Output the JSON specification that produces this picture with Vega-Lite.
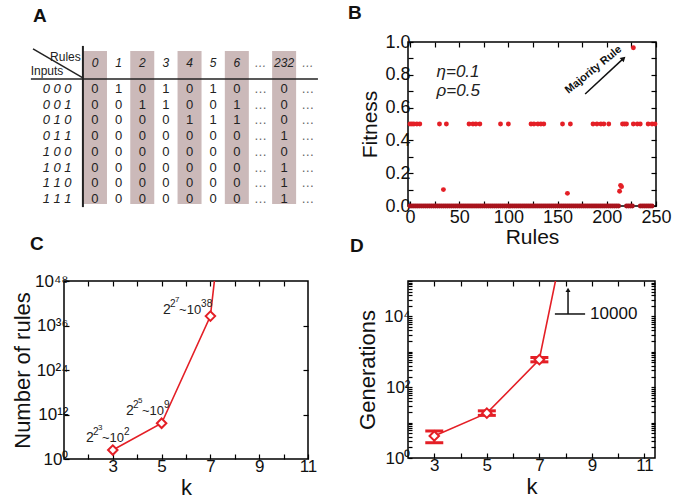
{
"$schema": "https://vega.github.io/schema/vega-lite/v6.json",
"background": "white",
"padding": {"left": 10, "top": 3, "right": 0, "bottom": 0},
"columns": 2,
"bounds": "flush",
"spacing": {"row": 75, "column": 100},
"config": {
  "font": "Liberation Sans",
  "view": {"stroke": "black", "strokeWidth": 1.5},
  "axis": {"grid": false, "domain": false, "tickColor": "black", "tickSize": -5, "tickWidth": 1.2,
    "labelFlush": false, "labelOverlap": false,
    "labelFont": "Liberation Sans", "labelFontSize": 17, "labelColor": "#111", "labelPadding": 4,
    "titleFont": "Liberation Sans", "titleFontSize": 21, "titleFontWeight": "normal", "titleColor": "#111"},
  "title": {"font": "Liberation Sans", "fontSize": 19, "fontWeight": "bold", "anchor": "start", "frame": "group", "color": "#111"},
  "text": {"font": "Liberation Sans"}
},
"concat": [
{
  "width": 244, "height": 164,
  "view": {"stroke": null},
  "title": {"text": "A", "dx": -31, "offset": 13},
  "layer": [
    {"data": {"values": [{"c": 0}, {"c": 2}, {"c": 4}, {"c": 6}, {"c": 8}]},
     "mark": {"type": "rule", "strokeWidth": 24, "color": "#cbb9b9"},
     "encoding": {"x": {"field": "c", "type": "quantitative", "scale": {"domain": [-1.31, 9.01], "nice": false, "zero": false}, "axis": null},
       "y": {"datum": -2.42, "type": "quantitative", "scale": {"domain": [-2.99, 7.45], "reverse": true, "nice": false, "zero": false}, "axis": null},
       "y2": {"datum": 7.32}}},
    {"data": {"values": [{"x": -2.71, "y": -0.64, "x2": 9.43, "y2": -0.64}, {"x": -2.62, "y": -2.55, "x2": -0.51, "y2": -0.70}]},
     "mark": {"type": "rule", "strokeWidth": 1.5, "color": "#222"},
     "encoding": {"x": {"field": "x", "type": "quantitative", "scale": {"domain": [-1.31, 9.01], "nice": false, "zero": false}, "axis": null}, "y": {"field": "y", "type": "quantitative", "scale": {"domain": [-2.99, 7.45], "reverse": true, "nice": false, "zero": false}, "axis": null},
       "x2": {"field": "x2"}, "y2": {"field": "y2"}}},
    {"data": {"values": [{"x": -0.51, "y": -2.74, "x2": -0.51, "y2": 7.52}]},
     "mark": {"type": "rule", "strokeWidth": 2, "color": "#222"},
     "encoding": {"x": {"field": "x", "type": "quantitative", "scale": {"domain": [-1.31, 9.01], "nice": false, "zero": false}, "axis": null}, "y": {"field": "y", "type": "quantitative", "scale": {"domain": [-2.99, 7.45], "reverse": true, "nice": false, "zero": false}, "axis": null},
       "x2": {"field": "x2"}, "y2": {"field": "y2"}}},
    {"data": {"values": [{"x": -0.6, "y": -2.04, "t": "Rules"}]},
     "mark": {"type": "text", "align": "right", "baseline": "middle", "fontSize": 12, "color": "#222"},
     "encoding": {"x": {"field": "x", "type": "quantitative", "scale": {"domain": [-1.31, 9.01], "nice": false, "zero": false}, "axis": null}, "y": {"field": "y", "type": "quantitative", "scale": {"domain": [-2.99, 7.45], "reverse": true, "nice": false, "zero": false}, "axis": null}, "text": {"field": "t"}}},
    {"data": {"values": [{"x": -2.72, "y": -1.15, "t": "Inputs"}]},
     "mark": {"type": "text", "align": "left", "baseline": "middle", "fontSize": 12, "color": "#222"},
     "encoding": {"x": {"field": "x", "type": "quantitative", "scale": {"domain": [-1.31, 9.01], "nice": false, "zero": false}, "axis": null}, "y": {"field": "y", "type": "quantitative", "scale": {"domain": [-2.99, 7.45], "reverse": true, "nice": false, "zero": false}, "axis": null}, "text": {"field": "t"}}},
    {"data": {"values": [{"c": 0, "t": "0"}, {"c": 1, "t": "1"}, {"c": 2, "t": "2"}, {"c": 3, "t": "3"}, {"c": 4, "t": "4"}, {"c": 5, "t": "5"}, {"c": 6, "t": "6"}, {"c": 7, "t": "…"}, {"c": 8, "t": "232"}, {"c": 9, "t": "…"}]},
     "mark": {"type": "text", "align": "center", "baseline": "middle", "fontSize": 12, "fontStyle": "italic"},
     "encoding": {"x": {"field": "c", "type": "quantitative", "scale": {"domain": [-1.31, 9.01], "nice": false, "zero": false}, "axis": null}, "y": {"datum": -1.66, "type": "quantitative", "scale": {"domain": [-2.99, 7.45], "reverse": true, "nice": false, "zero": false}, "axis": null},
       "text": {"field": "t"}, "color": {"condition": {"test": "datum.t == '…'", "value": "#666"}, "value": "#222"}}},
    {"data": {"values": [{"r": 0, "t": "0 0 0"}, {"r": 1, "t": "0 0 1"}, {"r": 2, "t": "0 1 0"}, {"r": 3, "t": "0 1 1"}, {"r": 4, "t": "1 0 0"}, {"r": 5, "t": "1 0 1"}, {"r": 6, "t": "1 1 0"}, {"r": 7, "t": "1 1 1"}]},
     "mark": {"type": "text", "align": "center", "baseline": "middle", "fontSize": 13, "fontStyle": "italic", "color": "#222"},
     "encoding": {"x": {"datum": -1.6, "type": "quantitative", "scale": {"domain": [-1.31, 9.01], "nice": false, "zero": false}, "axis": null}, "y": {"field": "r", "type": "quantitative", "scale": {"domain": [-2.99, 7.45], "reverse": true, "nice": false, "zero": false}, "axis": null}, "text": {"field": "t"}}},
    {"data": {"values": [
      {"c": 0, "r": 0, "t": "0"}, {"c": 1, "r": 0, "t": "1"}, {"c": 2, "r": 0, "t": "0"}, {"c": 3, "r": 0, "t": "1"}, {"c": 4, "r": 0, "t": "0"}, {"c": 5, "r": 0, "t": "1"}, {"c": 6, "r": 0, "t": "0"}, {"c": 8, "r": 0, "t": "0"},
      {"c": 0, "r": 1, "t": "0"}, {"c": 1, "r": 1, "t": "0"}, {"c": 2, "r": 1, "t": "1"}, {"c": 3, "r": 1, "t": "1"}, {"c": 4, "r": 1, "t": "0"}, {"c": 5, "r": 1, "t": "0"}, {"c": 6, "r": 1, "t": "1"}, {"c": 8, "r": 1, "t": "0"},
      {"c": 0, "r": 2, "t": "0"}, {"c": 1, "r": 2, "t": "0"}, {"c": 2, "r": 2, "t": "0"}, {"c": 3, "r": 2, "t": "0"}, {"c": 4, "r": 2, "t": "1"}, {"c": 5, "r": 2, "t": "1"}, {"c": 6, "r": 2, "t": "1"}, {"c": 8, "r": 2, "t": "0"},
      {"c": 0, "r": 3, "t": "0"}, {"c": 1, "r": 3, "t": "0"}, {"c": 2, "r": 3, "t": "0"}, {"c": 3, "r": 3, "t": "0"}, {"c": 4, "r": 3, "t": "0"}, {"c": 5, "r": 3, "t": "0"}, {"c": 6, "r": 3, "t": "0"}, {"c": 8, "r": 3, "t": "1"},
      {"c": 0, "r": 4, "t": "0"}, {"c": 1, "r": 4, "t": "0"}, {"c": 2, "r": 4, "t": "0"}, {"c": 3, "r": 4, "t": "0"}, {"c": 4, "r": 4, "t": "0"}, {"c": 5, "r": 4, "t": "0"}, {"c": 6, "r": 4, "t": "0"}, {"c": 8, "r": 4, "t": "0"},
      {"c": 0, "r": 5, "t": "0"}, {"c": 1, "r": 5, "t": "0"}, {"c": 2, "r": 5, "t": "0"}, {"c": 3, "r": 5, "t": "0"}, {"c": 4, "r": 5, "t": "0"}, {"c": 5, "r": 5, "t": "0"}, {"c": 6, "r": 5, "t": "0"}, {"c": 8, "r": 5, "t": "1"},
      {"c": 0, "r": 6, "t": "0"}, {"c": 1, "r": 6, "t": "0"}, {"c": 2, "r": 6, "t": "0"}, {"c": 3, "r": 6, "t": "0"}, {"c": 4, "r": 6, "t": "0"}, {"c": 5, "r": 6, "t": "0"}, {"c": 6, "r": 6, "t": "0"}, {"c": 8, "r": 6, "t": "1"},
      {"c": 0, "r": 7, "t": "0"}, {"c": 1, "r": 7, "t": "0"}, {"c": 2, "r": 7, "t": "0"}, {"c": 3, "r": 7, "t": "0"}, {"c": 4, "r": 7, "t": "0"}, {"c": 5, "r": 7, "t": "0"}, {"c": 6, "r": 7, "t": "0"}, {"c": 8, "r": 7, "t": "1"},
      {"c": 7, "r": 0, "t": "…"}, {"c": 9, "r": 0, "t": "…"}, {"c": 7, "r": 1, "t": "…"}, {"c": 9, "r": 1, "t": "…"}, {"c": 7, "r": 2, "t": "…"}, {"c": 9, "r": 2, "t": "…"}, {"c": 7, "r": 3, "t": "…"}, {"c": 9, "r": 3, "t": "…"},
      {"c": 7, "r": 4, "t": "…"}, {"c": 9, "r": 4, "t": "…"}, {"c": 7, "r": 5, "t": "…"}, {"c": 9, "r": 5, "t": "…"}, {"c": 7, "r": 6, "t": "…"}, {"c": 9, "r": 6, "t": "…"}, {"c": 7, "r": 7, "t": "…"}, {"c": 9, "r": 7, "t": "…"}
    ]},
     "mark": {"type": "text", "align": "center", "baseline": "middle", "fontSize": 13},
     "encoding": {"x": {"field": "c", "type": "quantitative", "scale": {"domain": [-1.31, 9.01], "nice": false, "zero": false}, "axis": null}, "y": {"field": "r", "type": "quantitative", "scale": {"domain": [-2.99, 7.45], "reverse": true, "nice": false, "zero": false}, "axis": null},
       "text": {"field": "t"}, "color": {"condition": {"test": "datum.t == '…'", "value": "#666"}, "value": "#222"}}}
  ]
},
{
  "width": 248, "height": 164,
  "title": {"text": "B", "dx": -60, "offset": 10},
  "resolve": {"axis": {"x": "independent", "y": "independent"}},
  "layer": [
    {"data": {"values": [
      {"r": 0, "f": 0.5}, {"r": 2, "f": 0.5}, {"r": 4, "f": 0.5}, {"r": 7, "f": 0.5}, {"r": 10, "f": 0.5},
      {"r": 30, "f": 0.5}, {"r": 37, "f": 0.5}, {"r": 60, "f": 0.5}, {"r": 64, "f": 0.5}, {"r": 67, "f": 0.5}, {"r": 71, "f": 0.5},
      {"r": 92, "f": 0.5}, {"r": 100, "f": 0.5}, {"r": 123, "f": 0.5}, {"r": 126, "f": 0.5}, {"r": 130, "f": 0.5}, {"r": 133, "f": 0.5}, {"r": 136, "f": 0.5},
      {"r": 155, "f": 0.5}, {"r": 163, "f": 0.5}, {"r": 186, "f": 0.5}, {"r": 190, "f": 0.5}, {"r": 194, "f": 0.5}, {"r": 197, "f": 0.5}, {"r": 202, "f": 0.5},
      {"r": 216, "f": 0.5}, {"r": 218, "f": 0.5}, {"r": 220, "f": 0.5}, {"r": 227, "f": 0.5}, {"r": 231, "f": 0.5}, {"r": 234, "f": 0.5},
      {"r": 242, "f": 0.5}, {"r": 246, "f": 0.5}, {"r": 249, "f": 0.5},
      {"r": 34, "f": 0.1}, {"r": 160, "f": 0.077}, {"r": 213, "f": 0.09}, {"r": 214, "f": 0.126}, {"r": 215, "f": 0.118}, {"r": 227, "f": 0.965},
      {"r": 0, "f": 0}, {"r": 2, "f": 0}, {"r": 4, "f": 0}, {"r": 6, "f": 0}, {"r": 8, "f": 0}, {"r": 10, "f": 0}, {"r": 12, "f": 0}, {"r": 14, "f": 0}, {"r": 16, "f": 0}, {"r": 18, "f": 0},
      {"r": 20, "f": 0}, {"r": 22, "f": 0}, {"r": 24, "f": 0}, {"r": 26, "f": 0}, {"r": 28, "f": 0}, {"r": 30, "f": 0}, {"r": 32, "f": 0}, {"r": 34, "f": 0}, {"r": 36, "f": 0}, {"r": 38, "f": 0},
      {"r": 40, "f": 0}, {"r": 42, "f": 0}, {"r": 44, "f": 0}, {"r": 46, "f": 0}, {"r": 48, "f": 0}, {"r": 50, "f": 0}, {"r": 52, "f": 0}, {"r": 54, "f": 0}, {"r": 56, "f": 0}, {"r": 58, "f": 0},
      {"r": 60, "f": 0}, {"r": 62, "f": 0}, {"r": 64, "f": 0}, {"r": 66, "f": 0}, {"r": 68, "f": 0}, {"r": 70, "f": 0}, {"r": 72, "f": 0}, {"r": 74, "f": 0}, {"r": 76, "f": 0}, {"r": 78, "f": 0},
      {"r": 80, "f": 0}, {"r": 82, "f": 0}, {"r": 84, "f": 0}, {"r": 86, "f": 0}, {"r": 88, "f": 0}, {"r": 90, "f": 0}, {"r": 92, "f": 0}, {"r": 94, "f": 0}, {"r": 96, "f": 0}, {"r": 98, "f": 0},
      {"r": 100, "f": 0}, {"r": 102, "f": 0}, {"r": 104, "f": 0}, {"r": 106, "f": 0}, {"r": 108, "f": 0}, {"r": 110, "f": 0}, {"r": 112, "f": 0}, {"r": 114, "f": 0}, {"r": 116, "f": 0}, {"r": 118, "f": 0},
      {"r": 120, "f": 0}, {"r": 122, "f": 0}, {"r": 124, "f": 0}, {"r": 126, "f": 0}, {"r": 128, "f": 0}, {"r": 130, "f": 0}, {"r": 132, "f": 0}, {"r": 134, "f": 0}, {"r": 136, "f": 0}, {"r": 138, "f": 0},
      {"r": 140, "f": 0}, {"r": 142, "f": 0}, {"r": 144, "f": 0}, {"r": 146, "f": 0}, {"r": 148, "f": 0}, {"r": 150, "f": 0}, {"r": 152, "f": 0}, {"r": 154, "f": 0}, {"r": 156, "f": 0}, {"r": 158, "f": 0},
      {"r": 160, "f": 0}, {"r": 162, "f": 0}, {"r": 164, "f": 0}, {"r": 166, "f": 0}, {"r": 168, "f": 0}, {"r": 170, "f": 0}, {"r": 172, "f": 0}, {"r": 174, "f": 0}, {"r": 176, "f": 0}, {"r": 178, "f": 0},
      {"r": 180, "f": 0}, {"r": 182, "f": 0}, {"r": 184, "f": 0}, {"r": 186, "f": 0}, {"r": 188, "f": 0}, {"r": 190, "f": 0}, {"r": 192, "f": 0}, {"r": 194, "f": 0}, {"r": 196, "f": 0}, {"r": 198, "f": 0},
      {"r": 200, "f": 0}, {"r": 202, "f": 0}, {"r": 204, "f": 0}, {"r": 206, "f": 0}, {"r": 208, "f": 0}, {"r": 210, "f": 0}, {"r": 212, "f": 0},
      {"r": 220, "f": 0}, {"r": 222, "f": 0}, {"r": 224, "f": 0}, {"r": 226, "f": 0},
      {"r": 234, "f": 0}, {"r": 236, "f": 0}, {"r": 238, "f": 0}, {"r": 240, "f": 0}, {"r": 242, "f": 0}, {"r": 244, "f": 0}, {"r": 246, "f": 0}
    ]},
     "mark": {"type": "circle", "size": 24, "opacity": 1},
     "encoding": {
       "x": {"field": "r", "type": "quantitative", "scale": {"domain": [-2, 250], "nice": false, "zero": false},
         "axis": {"values": [0, 25, 50, 75, 100, 125, 150, 175, 200, 225, 250], "labelExpr": "datum.value % 50 == 0 ? datum.label : ''", "title": "Rules", "labelFontSize": 18, "titleFontSize": 21, "titlePadding": 0, "labelPadding": 7}},
       "y": {"field": "f", "type": "quantitative", "scale": {"domain": [0, 1], "nice": false, "zero": false},
         "axis": {"values": [0, 0.1, 0.2, 0.3, 0.4, 0.5, 0.6, 0.7, 0.8, 0.9, 1], "labelExpr": "round(datum.value*10) % 2 == 0 ? format(datum.value, '.1f') : ''", "title": "Fitness", "labelFontSize": 18, "titleFontSize": 21, "labelPadding": 3}},
       "color": {"condition": {"test": "datum.f == 0", "value": "#a8141d"}, "value": "#e41f26"}
     }},
    {"data": {"values": [{"r": 0, "f": 0}]},
     "mark": {"type": "point", "opacity": 0},
     "encoding": {
       "x": {"field": "r", "type": "quantitative", "scale": {"domain": [-2, 250], "nice": false, "zero": false}, "axis": {"orient": "top", "values": [0, 25, 50, 75, 100, 125, 150, 175, 200, 225, 250], "labels": false, "title": null}},
       "y": {"field": "f", "type": "quantitative", "scale": {"domain": [0, 1], "nice": false, "zero": false}, "axis": {"orient": "right", "values": [0, 0.1, 0.2, 0.3, 0.4, 0.5, 0.6, 0.7, 0.8, 0.9, 1], "labels": false, "title": null}}}},
    {"data": {"values": [{"r": 27, "f": 0.817, "t": "η=0.1"}, {"r": 27, "f": 0.70, "t": "ρ=0.5"}]},
     "mark": {"type": "text", "align": "left", "baseline": "middle", "fontSize": 17, "fontStyle": "italic", "color": "#222"},
     "encoding": {"x": {"field": "r", "type": "quantitative", "scale": {"domain": [-2, 250], "nice": false, "zero": false}, "axis": null}, "y": {"field": "f", "type": "quantitative", "scale": {"domain": [0, 1], "nice": false, "zero": false}, "axis": null}, "text": {"field": "t"}}},
    {"data": {"values": [{"r": 186.5, "f": 0.83, "t": "Majority Rule"}]},
     "mark": {"type": "text", "align": "center", "baseline": "middle", "fontSize": 11, "fontWeight": "bold", "angle": -39, "color": "#111"},
     "encoding": {"x": {"field": "r", "type": "quantitative", "scale": {"domain": [-2, 250], "nice": false, "zero": false}, "axis": null}, "y": {"field": "f", "type": "quantitative", "scale": {"domain": [0, 1], "nice": false, "zero": false}, "axis": null}, "text": {"field": "t"}}},
    {"data": {"values": [{"r": 178, "f": 0.683, "r2": 217, "f2": 0.9}]},
     "mark": {"type": "rule", "strokeWidth": 1.5, "color": "#111"},
     "encoding": {"x": {"field": "r", "type": "quantitative", "scale": {"domain": [-2, 250], "nice": false, "zero": false}, "axis": null}, "y": {"field": "f", "type": "quantitative", "scale": {"domain": [0, 1], "nice": false, "zero": false}, "axis": null}, "x2": {"field": "r2"}, "y2": {"field": "f2"}}},
    {"data": {"values": [{"r": 217, "f": 0.9}]},
     "mark": {"type": "point", "shape": "triangle-up", "filled": true, "color": "#111", "size": 35, "angle": 47, "opacity": 1},
     "encoding": {"x": {"field": "r", "type": "quantitative", "scale": {"domain": [-2, 250], "nice": false, "zero": false}, "axis": null}, "y": {"field": "f", "type": "quantitative", "scale": {"domain": [0, 1], "nice": false, "zero": false}, "axis": null}}}
  ]
},
{
  "width": 244, "height": 178,
  "title": {"text": "C", "dx": -34, "offset": 18},
  "resolve": {"axis": {"x": "independent", "y": "independent"}},
  "layer": [
    {"data": {"values": [{"k": 3, "n": 256}, {"k": 5, "n": 4294967296}, {"k": 7, "n": 3.4e38}, {"k": 9, "n": 1.34e154}]},
     "mark": {"type": "line", "color": "#e41f26", "strokeWidth": 1.6, "clip": true},
     "encoding": {
       "x": {"field": "k", "type": "quantitative", "scale": {"domain": [1, 11], "nice": false, "zero": false},
         "axis": {"values": [2, 3, 4, 5, 6, 7, 8, 9, 10, 11], "labelExpr": "datum.value % 2 == 1 ? datum.label : ''", "title": "k", "titleFontSize": 22, "titlePadding": 3}},
       "y": {"field": "n", "type": "quantitative", "scale": {"type": "log", "domain": [1, 1e48], "nice": false},
         "axis": {"values": [1, 1e12, 1e24, 1e36, 1e48], "labelExpr": "datum.value < 10 ? '10⁰' : datum.value < 1e13 ? '10¹²' : datum.value < 1e25 ? '10²⁴' : datum.value < 1e37 ? '10³⁶' : '10⁴⁸'", "title": "Number of rules", "titleFontSize": 22, "labelPadding": 1, "titlePadding": 0}}}},
    {"data": {"values": [{"k": 3, "n": 256}, {"k": 5, "n": 4294967296}, {"k": 7, "n": 3.4e38}]},
     "mark": {"type": "point", "shape": "diamond", "filled": true, "fill": "white", "stroke": "#e41f26", "strokeWidth": 2, "size": 90, "opacity": 1},
     "encoding": {"x": {"field": "k", "type": "quantitative", "scale": {"domain": [1, 11], "nice": false, "zero": false}, "axis": null}, "y": {"field": "n", "type": "quantitative", "scale": {"type": "log", "domain": [1, 1e48], "nice": false}, "axis": null}}},
    {"data": {"values": [{"k": 1, "n": 1}]},
     "mark": {"type": "point", "opacity": 0},
     "encoding": {
       "x": {"field": "k", "type": "quantitative", "scale": {"domain": [1, 11], "nice": false, "zero": false}, "axis": {"orient": "top", "values": [2, 3, 4, 5, 6, 7, 8, 9, 10], "labels": false, "title": null}},
       "y": {"field": "n", "type": "quantitative", "scale": {"type": "log", "domain": [1, 1e48], "nice": false}, "axis": {"orient": "right", "values": [1e12, 1e24, 1e36], "labels": false, "title": null}}}},
    {"data": {"values": [{"k": 1.9, "n": 4e4, "a": "3", "b": "2"}, {"k": 3.54, "n": 1e12, "a": "5", "b": "9"}, {"k": 5.06, "n": 1e39, "a": "7", "b": "38"}]},
     "encoding": {"x": {"field": "k", "type": "quantitative", "scale": {"domain": [1, 11], "nice": false, "zero": false}, "axis": null}, "y": {"field": "n", "type": "quantitative", "scale": {"type": "log", "domain": [1, 1e48], "nice": false}, "axis": null}},
     "layer": [
       {"mark": {"type": "text", "align": "left", "baseline": "alphabetic", "fontSize": 14, "color": "#222", "dx": 0}, "encoding": {"text": {"value": "2"}}},
       {"mark": {"type": "text", "align": "left", "baseline": "alphabetic", "fontSize": 10, "color": "#222", "dx": 7, "dy": -7}, "encoding": {"text": {"value": "2"}}},
       {"mark": {"type": "text", "align": "left", "baseline": "alphabetic", "fontSize": 8, "color": "#222", "dx": 12, "dy": -12}, "encoding": {"text": {"field": "a"}}},
       {"mark": {"type": "text", "align": "left", "baseline": "alphabetic", "fontSize": 13, "color": "#222", "dx": 16}, "encoding": {"text": {"value": "~10"}}},
       {"mark": {"type": "text", "align": "left", "baseline": "alphabetic", "fontSize": 10, "color": "#222", "dx": 38, "dy": -7}, "encoding": {"text": {"field": "b"}}}
     ]}
  ]
},
{
  "width": 247, "height": 177,
  "title": {"text": "D", "dx": -58, "offset": 16},
  "resolve": {"axis": {"x": "independent", "y": "independent"}},
  "layer": [
    {"data": {"values": [{"k": 3, "g": 4.2}, {"k": 5, "g": 18.5}, {"k": 7, "g": 600}, {"k": 7.05, "g": 950}, {"k": 9, "g": 1e10}]},
     "mark": {"type": "line", "color": "#e41f26", "strokeWidth": 1.6, "clip": true},
     "encoding": {
       "x": {"field": "k", "type": "quantitative", "scale": {"domain": [2, 11.4], "nice": false, "zero": false},
         "axis": {"values": [3, 4, 5, 6, 7, 8, 9, 10, 11], "labelExpr": "datum.value % 2 == 1 ? datum.label : ''", "title": "k", "titleFontSize": 22, "titlePadding": 3}},
       "y": {"field": "g", "type": "quantitative", "scale": {"type": "log", "domain": [1, 100000], "nice": false},
         "axis": {"values": [1, 2, 3, 4, 5, 6, 7, 8, 9, 10, 20, 30, 40, 50, 60, 70, 80, 90, 100, 200, 300, 400, 500, 600, 700, 800, 900, 1000, 2000, 3000, 4000, 5000, 6000, 7000, 8000, 9000, 10000, 20000, 30000, 40000, 50000, 60000, 70000, 80000, 90000, 100000],
           "labelExpr": "datum.value == 1 ? '10⁰' : datum.value == 100 ? '10²' : datum.value == 10000 ? '10⁴' : ''", "title": "Generations", "titleFontSize": 22, "tickSize": -4, "labelPadding": 2}}}},
    {"data": {"values": [{"k": 3, "lo": 2.7, "hi": 5.8}, {"k": 5, "lo": 16, "hi": 21.5}, {"k": 7, "lo": 520, "hi": 690}]},
     "encoding": {"x": {"field": "k", "type": "quantitative", "scale": {"domain": [2, 11.4], "nice": false, "zero": false}, "axis": null}},
     "layer": [
       {"mark": {"type": "rule", "color": "#e41f26", "strokeWidth": 2}, "encoding": {"y": {"field": "lo", "type": "quantitative", "scale": {"type": "log", "domain": [1, 100000], "nice": false}, "axis": null}, "y2": {"field": "hi"}}},
       {"mark": {"type": "tick", "orient": "horizontal", "color": "#e41f26", "size": 18, "thickness": 3, "opacity": 1}, "encoding": {"y": {"field": "lo", "type": "quantitative", "scale": {"type": "log", "domain": [1, 100000], "nice": false}, "axis": null}}},
       {"mark": {"type": "tick", "orient": "horizontal", "color": "#e41f26", "size": 18, "thickness": 3, "opacity": 1}, "encoding": {"y": {"field": "hi", "type": "quantitative", "scale": {"type": "log", "domain": [1, 100000], "nice": false}, "axis": null}}}
     ]},
    {"data": {"values": [{"k": 3, "g": 4.2}, {"k": 5, "g": 18.5}, {"k": 7, "g": 600}]},
     "mark": {"type": "point", "shape": "diamond", "filled": true, "fill": "white", "stroke": "#e41f26", "strokeWidth": 2, "size": 90, "opacity": 1},
     "encoding": {"x": {"field": "k", "type": "quantitative", "scale": {"domain": [2, 11.4], "nice": false, "zero": false}, "axis": null}, "y": {"field": "g", "type": "quantitative", "scale": {"type": "log", "domain": [1, 100000], "nice": false}, "axis": null}}},
    {"data": {"values": [{"k": 3, "g": 1}]},
     "mark": {"type": "point", "opacity": 0},
     "encoding": {
       "x": {"field": "k", "type": "quantitative", "scale": {"domain": [2, 11.4], "nice": false, "zero": false}, "axis": {"orient": "top", "values": [3, 4, 5, 6, 7, 8, 9, 10, 11], "labels": false, "title": null}},
       "y": {"field": "g", "type": "quantitative", "scale": {"type": "log", "domain": [1, 100000], "nice": false}, "axis": {"orient": "right", "values": [2, 3, 4, 5, 6, 7, 8, 9, 10, 20, 30, 40, 50, 60, 70, 80, 90, 100, 200, 300, 400, 500, 600, 700, 800, 900, 1000, 2000, 3000, 4000, 5000, 6000, 7000, 8000, 9000, 10000, 20000, 30000, 40000, 50000, 60000, 70000, 80000, 90000], "labels": false, "title": null, "tickSize": -4}}}},
    {"data": {"values": [{"k": 7.59, "g": 11700, "k2": 8.74}]},
     "mark": {"type": "rule", "color": "#111", "strokeWidth": 1.5},
     "encoding": {"x": {"field": "k", "type": "quantitative", "scale": {"domain": [2, 11.4], "nice": false, "zero": false}, "axis": null}, "x2": {"field": "k2"}, "y": {"field": "g", "type": "quantitative", "scale": {"type": "log", "domain": [1, 100000], "nice": false}, "axis": null}}},
    {"data": {"values": [{"k": 8.09, "g": 11700, "g2": 52000}]},
     "mark": {"type": "rule", "color": "#111", "strokeWidth": 1.5},
     "encoding": {"x": {"field": "k", "type": "quantitative", "scale": {"domain": [2, 11.4], "nice": false, "zero": false}, "axis": null}, "y": {"field": "g", "type": "quantitative", "scale": {"type": "log", "domain": [1, 100000], "nice": false}, "axis": null}, "y2": {"field": "g2"}}},
    {"data": {"values": [{"k": 8.09, "g": 56000}]},
     "mark": {"type": "point", "shape": "triangle-up", "filled": true, "color": "#111", "size": 25, "opacity": 1},
     "encoding": {"x": {"field": "k", "type": "quantitative", "scale": {"domain": [2, 11.4], "nice": false, "zero": false}, "axis": null}, "y": {"field": "g", "type": "quantitative", "scale": {"type": "log", "domain": [1, 100000], "nice": false}, "axis": null}}},
    {"data": {"values": [{"k": 8.93, "g": 11700, "t": "10000"}]},
     "mark": {"type": "text", "align": "left", "baseline": "middle", "fontSize": 17, "color": "#111"},
     "encoding": {"x": {"field": "k", "type": "quantitative", "scale": {"domain": [2, 11.4], "nice": false, "zero": false}, "axis": null}, "y": {"field": "g", "type": "quantitative", "scale": {"type": "log", "domain": [1, 100000], "nice": false}, "axis": null}, "text": {"field": "t"}}}
  ]
}
]
}
